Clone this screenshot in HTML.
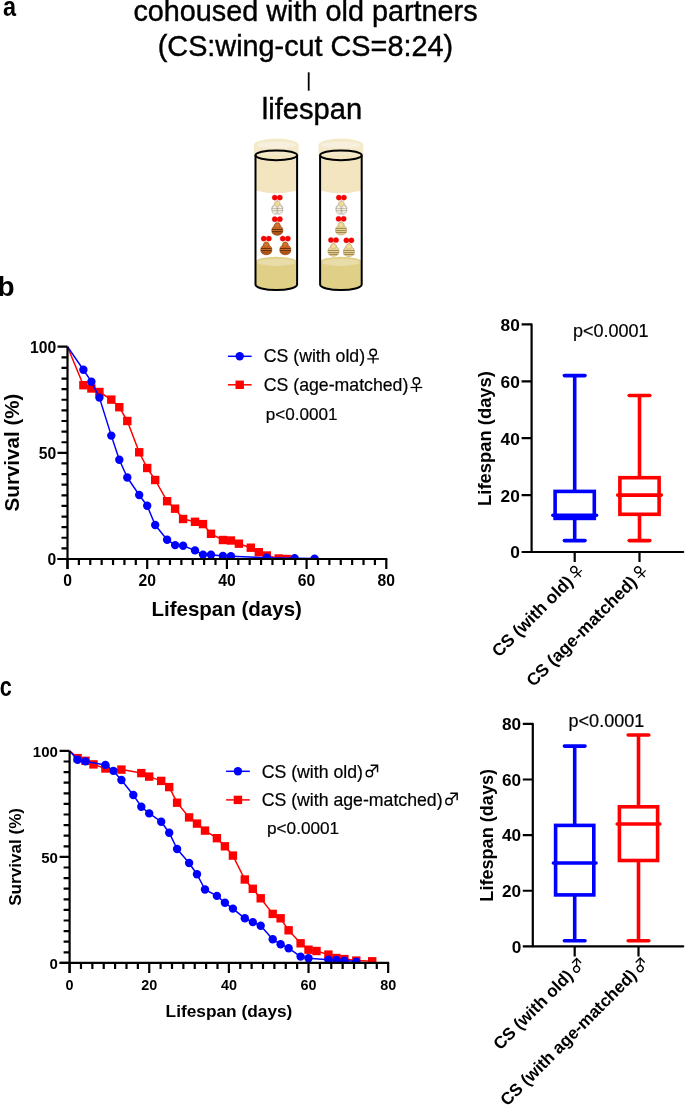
<!DOCTYPE html>
<html><head><meta charset="utf-8"><title>figure</title>
<style>
html,body{margin:0;padding:0;background:#fff;}
body{width:685px;height:1105px;overflow:hidden;}
svg{display:block;will-change:transform;}
svg text{font-family:"Liberation Sans", sans-serif;fill:#000;}
svg text.r{stroke:#000;stroke-width:0.2px;}
svg text.t{stroke:#000;stroke-width:0.4px;}
</style></head>
<body>
<svg width="685" height="1105" viewBox="0 0 685 1105">
<rect width="685" height="1105" fill="#fff"/>
<text transform="translate(3.0,16.2) scale(0.87,1)" font-size="27" font-weight="bold">a</text><text x="305.5" y="21" font-size="28.8" text-anchor="middle" class="t">cohoused with old partners</text><text x="305.4" y="55.7" font-size="28.8" text-anchor="middle" class="t">(CS:wing-cut CS=8:24)</text><rect x="307.8" y="72.3" width="1.8" height="18.4" fill="#000"/><text x="312.0" y="119.3" font-size="29.1" text-anchor="middle" class="t">lifespan</text><path d="M253.9 145 A22.4 6.4 0 0 1 298.7 145 L298.7 156 L253.9 156 Z" fill="#F4E9C8"/><ellipse cx="276.3" cy="144.9" rx="19.9" ry="3.2" fill="#F7F0DE"/><path d="M255.5 155 L297.1 155 L297.1 190.5 Q276.3 196 255.5 190.5 Z" fill="#F3E5BF"/><path d="M255.5 262 A20.80000000000001 5.3 0 0 1 297.1 262 L297.1 284.5 A20.80000000000001 5.6 0 0 1 255.5 284.5 Z" fill="#E0CF87"/><ellipse cx="276.3" cy="262.3" rx="19" ry="3.6" fill="#E8DDA9"/><path d="M255.5 155.3 L255.5 284.5 A20.80000000000001 5.6 0 0 0 297.1 284.5 L297.1 155.3" fill="none" stroke="#000" stroke-width="2"/><ellipse cx="276.3" cy="155.3" rx="20.80000000000001" ry="4.9" fill="none" stroke="#000" stroke-width="2"/><path d="M277.3 201.0 C279.3 201.0 280.2 202.79999999999998 280.3 204.5 C282.2 205.29999999999998 282.90000000000003 207.2 282.90000000000003 209.0 C282.90000000000003 211.9 280.5 213.79999999999998 277.3 213.79999999999998 C274.1 213.79999999999998 271.7 211.9 271.7 209.0 C271.7 207.2 272.40000000000003 205.29999999999998 274.3 204.5 C274.40000000000003 202.79999999999998 275.3 201.0 277.3 201.0 Z" fill="#ECE4CC" stroke="#9A9A9A" stroke-width="0.5"/><path d="M272.0 210.2 C272.3 212.4 274.3 213.49999999999997 277.3 213.49999999999997 C280.3 213.49999999999997 282.3 212.4 282.6 210.2 Z" fill="#E2D8BA"/><line x1="272.0" y1="208.5" x2="282.6" y2="208.5" stroke="#A89C78" stroke-width="0.9"/><line x1="272.0" y1="210.5" x2="282.6" y2="210.5" stroke="#A89C78" stroke-width="0.9"/><path d="M276.5 204.6 C270.8 205.1 270.1 214.1 276.1 214.79999999999998 L277.0 212.6 Z M278.1 204.6 C283.8 205.1 284.5 214.1 278.5 214.79999999999998 L277.6 212.6 Z" fill="#FFFFFF" fill-opacity="0.35" stroke="#9A9A9A" stroke-width="0.45"/><ellipse cx="277.3" cy="203.79999999999998" rx="2.7" ry="2.6" fill="#F6DA8A" stroke="#9A9A9A" stroke-width="0.3"/><path d="M276.5 201.0 L277.3 199.2 L278.1 201.0 Z" fill="#D8C070"/><circle cx="274.75" cy="197.6" r="2.6" fill="#FF0000" stroke="#D00000" stroke-width="0.3"/><circle cx="279.85" cy="197.6" r="2.6" fill="#FF0000" stroke="#D00000" stroke-width="0.3"/><path d="M277.3 222.6 C279.3 222.6 280.2 224.39999999999998 280.3 226.1 C282.2 226.89999999999998 282.90000000000003 228.79999999999998 282.90000000000003 230.6 C282.90000000000003 233.5 280.5 235.39999999999998 277.3 235.39999999999998 C274.1 235.39999999999998 271.7 233.5 271.7 230.6 C271.7 228.79999999999998 272.40000000000003 226.89999999999998 274.3 226.1 C274.40000000000003 224.39999999999998 275.3 222.6 277.3 222.6 Z" fill="#CC6820" stroke="#7A3A10" stroke-width="0.5"/><path d="M272.0 231.79999999999998 C272.3 234.0 274.3 235.09999999999997 277.3 235.09999999999997 C280.3 235.09999999999997 282.3 234.0 282.6 231.79999999999998 Z" fill="#A9531A"/><line x1="272.0" y1="229.5" x2="282.6" y2="229.5" stroke="#5E2C0A" stroke-width="0.9"/><line x1="272.0" y1="231.5" x2="282.6" y2="231.5" stroke="#5E2C0A" stroke-width="0.9"/><ellipse cx="277.3" cy="225.39999999999998" rx="2.7" ry="2.6" fill="#D2722A" stroke="#7A3A10" stroke-width="0.3"/><path d="M276.5 222.6 L277.3 220.79999999999998 L278.1 222.6 Z" fill="#D8C070"/><circle cx="274.75" cy="219.2" r="2.6" fill="#FF0000" stroke="#D00000" stroke-width="0.3"/><circle cx="279.85" cy="219.2" r="2.6" fill="#FF0000" stroke="#D00000" stroke-width="0.3"/><path d="M266.3 242.0 C268.3 242.0 269.2 243.79999999999998 269.3 245.5 C271.2 246.29999999999998 271.90000000000003 248.2 271.90000000000003 250.0 C271.90000000000003 252.9 269.5 254.79999999999998 266.3 254.79999999999998 C263.1 254.79999999999998 260.7 252.9 260.7 250.0 C260.7 248.2 261.40000000000003 246.29999999999998 263.3 245.5 C263.40000000000003 243.79999999999998 264.3 242.0 266.3 242.0 Z" fill="#CC6820" stroke="#7A3A10" stroke-width="0.5"/><path d="M261.0 251.2 C261.3 253.4 263.3 254.49999999999997 266.3 254.49999999999997 C269.3 254.49999999999997 271.3 253.4 271.6 251.2 Z" fill="#A9531A"/><line x1="261.0" y1="248.5" x2="271.6" y2="248.5" stroke="#5E2C0A" stroke-width="0.9"/><line x1="261.0" y1="250.5" x2="271.6" y2="250.5" stroke="#5E2C0A" stroke-width="0.9"/><ellipse cx="266.3" cy="244.79999999999998" rx="2.7" ry="2.6" fill="#D2722A" stroke="#7A3A10" stroke-width="0.3"/><path d="M265.5 242.0 L266.3 240.2 L267.1 242.0 Z" fill="#D8C070"/><circle cx="263.75" cy="238.6" r="2.6" fill="#FF0000" stroke="#D00000" stroke-width="0.3"/><circle cx="268.85" cy="238.6" r="2.6" fill="#FF0000" stroke="#D00000" stroke-width="0.3"/><path d="M285.3 242.0 C287.3 242.0 288.2 243.79999999999998 288.3 245.5 C290.2 246.29999999999998 290.90000000000003 248.2 290.90000000000003 250.0 C290.90000000000003 252.9 288.5 254.79999999999998 285.3 254.79999999999998 C282.1 254.79999999999998 279.7 252.9 279.7 250.0 C279.7 248.2 280.40000000000003 246.29999999999998 282.3 245.5 C282.40000000000003 243.79999999999998 283.3 242.0 285.3 242.0 Z" fill="#CC6820" stroke="#7A3A10" stroke-width="0.5"/><path d="M280.0 251.2 C280.3 253.4 282.3 254.49999999999997 285.3 254.49999999999997 C288.3 254.49999999999997 290.3 253.4 290.6 251.2 Z" fill="#A9531A"/><line x1="280.0" y1="248.5" x2="290.6" y2="248.5" stroke="#5E2C0A" stroke-width="0.9"/><line x1="280.0" y1="250.5" x2="290.6" y2="250.5" stroke="#5E2C0A" stroke-width="0.9"/><ellipse cx="285.3" cy="244.79999999999998" rx="2.7" ry="2.6" fill="#D2722A" stroke="#7A3A10" stroke-width="0.3"/><path d="M284.5 242.0 L285.3 240.2 L286.1 242.0 Z" fill="#D8C070"/><circle cx="282.75" cy="238.6" r="2.6" fill="#FF0000" stroke="#D00000" stroke-width="0.3"/><circle cx="287.85" cy="238.6" r="2.6" fill="#FF0000" stroke="#D00000" stroke-width="0.3"/><path d="M318.5 145 A22.4 6.4 0 0 1 363.29999999999995 145 L363.29999999999995 156 L318.5 156 Z" fill="#F4E9C8"/><ellipse cx="340.9" cy="144.9" rx="19.9" ry="3.2" fill="#F7F0DE"/><path d="M320.09999999999997 155 L361.7 155 L361.7 190.5 Q340.9 196 320.09999999999997 190.5 Z" fill="#F3E5BF"/><path d="M320.09999999999997 262 A20.80000000000001 5.3 0 0 1 361.7 262 L361.7 284.5 A20.80000000000001 5.6 0 0 1 320.09999999999997 284.5 Z" fill="#E0CF87"/><ellipse cx="340.9" cy="262.3" rx="19" ry="3.6" fill="#E8DDA9"/><path d="M320.09999999999997 155.3 L320.09999999999997 284.5 A20.80000000000001 5.6 0 0 0 361.7 284.5 L361.7 155.3" fill="none" stroke="#000" stroke-width="2"/><ellipse cx="340.9" cy="155.3" rx="20.80000000000001" ry="4.9" fill="none" stroke="#000" stroke-width="2"/><path d="M341.4 201.0 C343.4 201.0 344.29999999999995 202.79999999999998 344.4 204.5 C346.29999999999995 205.29999999999998 347.0 207.2 347.0 209.0 C347.0 211.9 344.59999999999997 213.79999999999998 341.4 213.79999999999998 C338.2 213.79999999999998 335.79999999999995 211.9 335.79999999999995 209.0 C335.79999999999995 207.2 336.5 205.29999999999998 338.4 204.5 C338.5 202.79999999999998 339.4 201.0 341.4 201.0 Z" fill="#ECE4CC" stroke="#9A9A9A" stroke-width="0.5"/><path d="M336.09999999999997 210.2 C336.4 212.4 338.4 213.49999999999997 341.4 213.49999999999997 C344.4 213.49999999999997 346.4 212.4 346.7 210.2 Z" fill="#E2D8BA"/><line x1="336.09999999999997" y1="208.5" x2="346.7" y2="208.5" stroke="#A89C78" stroke-width="0.9"/><line x1="336.09999999999997" y1="210.5" x2="346.7" y2="210.5" stroke="#A89C78" stroke-width="0.9"/><path d="M340.59999999999997 204.6 C334.9 205.1 334.2 214.1 340.2 214.79999999999998 L341.09999999999997 212.6 Z M342.2 204.6 C347.9 205.1 348.59999999999997 214.1 342.59999999999997 214.79999999999998 L341.7 212.6 Z" fill="#FFFFFF" fill-opacity="0.35" stroke="#9A9A9A" stroke-width="0.45"/><ellipse cx="341.4" cy="203.79999999999998" rx="2.7" ry="2.6" fill="#F6DA8A" stroke="#9A9A9A" stroke-width="0.3"/><path d="M340.59999999999997 201.0 L341.4 199.2 L342.2 201.0 Z" fill="#D8C070"/><circle cx="338.84999999999997" cy="197.6" r="2.6" fill="#FF0000" stroke="#D00000" stroke-width="0.3"/><circle cx="343.95" cy="197.6" r="2.6" fill="#FF0000" stroke="#D00000" stroke-width="0.3"/><path d="M341.09999999999997 222.20000000000002 C343.09999999999997 222.20000000000002 343.99999999999994 224.0 344.09999999999997 225.70000000000002 C345.99999999999994 226.5 346.7 228.4 346.7 230.20000000000002 C346.7 233.10000000000002 344.29999999999995 235.0 341.09999999999997 235.0 C337.9 235.0 335.49999999999994 233.10000000000002 335.49999999999994 230.20000000000002 C335.49999999999994 228.4 336.2 226.5 338.09999999999997 225.70000000000002 C338.2 224.0 339.09999999999997 222.20000000000002 341.09999999999997 222.20000000000002 Z" fill="#E8D597" stroke="#A08C58" stroke-width="0.5"/><path d="M335.79999999999995 231.4 C336.09999999999997 233.60000000000002 338.09999999999997 234.7 341.09999999999997 234.7 C344.09999999999997 234.7 346.09999999999997 233.60000000000002 346.4 231.4 Z" fill="#DCC684"/><line x1="335.79999999999995" y1="228.5" x2="346.4" y2="228.5" stroke="#9C8650" stroke-width="0.9"/><line x1="335.79999999999995" y1="230.5" x2="346.4" y2="230.5" stroke="#9C8650" stroke-width="0.9"/><line x1="335.79999999999995" y1="232.5" x2="346.4" y2="232.5" stroke="#9C8650" stroke-width="0.9"/><ellipse cx="341.09999999999997" cy="225.0" rx="2.7" ry="2.6" fill="#F2DC98" stroke="#A08C58" stroke-width="0.3"/><path d="M340.29999999999995 222.20000000000002 L341.09999999999997 220.4 L341.9 222.20000000000002 Z" fill="#D8C070"/><circle cx="338.54999999999995" cy="218.8" r="2.6" fill="#FF0000" stroke="#D00000" stroke-width="0.3"/><circle cx="343.65" cy="218.8" r="2.6" fill="#FF0000" stroke="#D00000" stroke-width="0.3"/><path d="M333.5 243.4 C335.5 243.4 336.4 245.2 336.5 246.9 C338.4 247.7 339.1 249.6 339.1 251.4 C339.1 254.3 336.7 256.2 333.5 256.2 C330.3 256.2 327.9 254.3 327.9 251.4 C327.9 249.6 328.6 247.7 330.5 246.9 C330.6 245.2 331.5 243.4 333.5 243.4 Z" fill="#E8D597" stroke="#A08C58" stroke-width="0.5"/><path d="M328.2 252.6 C328.5 254.8 330.5 255.89999999999998 333.5 255.89999999999998 C336.5 255.89999999999998 338.5 254.8 338.8 252.6 Z" fill="#DCC684"/><line x1="328.2" y1="250.5" x2="338.8" y2="250.5" stroke="#9C8650" stroke-width="0.9"/><line x1="328.2" y1="252.5" x2="338.8" y2="252.5" stroke="#9C8650" stroke-width="0.9"/><line x1="329.2" y1="254.5" x2="337.8" y2="254.5" stroke="#9C8650" stroke-width="0.9"/><ellipse cx="333.5" cy="246.2" rx="2.7" ry="2.6" fill="#F2DC98" stroke="#A08C58" stroke-width="0.3"/><path d="M332.7 243.4 L333.5 241.6 L334.3 243.4 Z" fill="#D8C070"/><circle cx="330.95" cy="240.0" r="2.6" fill="#FF0000" stroke="#D00000" stroke-width="0.3"/><circle cx="336.05" cy="240.0" r="2.6" fill="#FF0000" stroke="#D00000" stroke-width="0.3"/><path d="M348.9 243.70000000000002 C350.9 243.70000000000002 351.79999999999995 245.5 351.9 247.20000000000002 C353.79999999999995 248.0 354.5 249.9 354.5 251.70000000000002 C354.5 254.60000000000002 352.09999999999997 256.5 348.9 256.5 C345.7 256.5 343.29999999999995 254.60000000000002 343.29999999999995 251.70000000000002 C343.29999999999995 249.9 344.0 248.0 345.9 247.20000000000002 C346.0 245.5 346.9 243.70000000000002 348.9 243.70000000000002 Z" fill="#E8D597" stroke="#A08C58" stroke-width="0.5"/><path d="M343.59999999999997 252.9 C343.9 255.10000000000002 345.9 256.2 348.9 256.2 C351.9 256.2 353.9 255.10000000000002 354.2 252.9 Z" fill="#DCC684"/><line x1="343.59999999999997" y1="250.5" x2="354.2" y2="250.5" stroke="#9C8650" stroke-width="0.9"/><line x1="343.59999999999997" y1="252.5" x2="354.2" y2="252.5" stroke="#9C8650" stroke-width="0.9"/><line x1="343.59999999999997" y1="254.5" x2="354.2" y2="254.5" stroke="#9C8650" stroke-width="0.9"/><ellipse cx="348.9" cy="246.5" rx="2.7" ry="2.6" fill="#F2DC98" stroke="#A08C58" stroke-width="0.3"/><path d="M348.09999999999997 243.70000000000002 L348.9 241.9 L349.7 243.70000000000002 Z" fill="#D8C070"/><circle cx="346.34999999999997" cy="240.3" r="2.6" fill="#FF0000" stroke="#D00000" stroke-width="0.3"/><circle cx="351.45" cy="240.3" r="2.6" fill="#FF0000" stroke="#D00000" stroke-width="0.3"/><text x="-2.5" y="296.2" font-size="28" font-weight="bold" text-anchor="start" >b</text><text transform="translate(-0.2,696.0) scale(0.8,1)" font-size="27" font-weight="bold">c</text><clipPath id="cb"><rect x="67.5" y="336.7" width="400" height="222.3"/></clipPath><g clip-path="url(#cb)"><polyline points="67.5,346.7 83.4,385.2 91.4,388.5 99.4,392.0 111.3,399.6 119.3,407.2 127.3,421.0 139.2,452.3 147.2,468.0 155.2,480.0 167.1,501.2 175.1,508.7 183.1,519.0 195.0,521.8 203.0,524.1 211.0,533.8 222.9,540.0 230.9,540.5 238.9,543.7 250.8,547.7 258.8,552.2 266.8,555.5 278.7,558.5 286.7,559.0" fill="none" stroke="#FF0000" stroke-width="1.5" stroke-linejoin="round"/><rect x="79.2" y="381.0" width="8.4" height="8.4" fill="#FF0000"/><rect x="87.2" y="384.3" width="8.4" height="8.4" fill="#FF0000"/><rect x="95.2" y="387.8" width="8.4" height="8.4" fill="#FF0000"/><rect x="107.1" y="395.4" width="8.4" height="8.4" fill="#FF0000"/><rect x="115.1" y="403.0" width="8.4" height="8.4" fill="#FF0000"/><rect x="123.1" y="416.8" width="8.4" height="8.4" fill="#FF0000"/><rect x="135.0" y="448.1" width="8.4" height="8.4" fill="#FF0000"/><rect x="143.0" y="463.8" width="8.4" height="8.4" fill="#FF0000"/><rect x="151.0" y="475.8" width="8.4" height="8.4" fill="#FF0000"/><rect x="162.9" y="497.0" width="8.4" height="8.4" fill="#FF0000"/><rect x="170.9" y="504.5" width="8.4" height="8.4" fill="#FF0000"/><rect x="178.9" y="514.8" width="8.4" height="8.4" fill="#FF0000"/><rect x="190.8" y="517.6" width="8.4" height="8.4" fill="#FF0000"/><rect x="198.8" y="519.9" width="8.4" height="8.4" fill="#FF0000"/><rect x="206.8" y="529.6" width="8.4" height="8.4" fill="#FF0000"/><rect x="218.7" y="535.8" width="8.4" height="8.4" fill="#FF0000"/><rect x="226.7" y="536.3" width="8.4" height="8.4" fill="#FF0000"/><rect x="234.7" y="539.5" width="8.4" height="8.4" fill="#FF0000"/><rect x="246.6" y="543.5" width="8.4" height="8.4" fill="#FF0000"/><rect x="254.6" y="548.0" width="8.4" height="8.4" fill="#FF0000"/><rect x="262.6" y="551.3" width="8.4" height="8.4" fill="#FF0000"/><rect x="274.5" y="554.3" width="8.4" height="8.4" fill="#FF0000"/><rect x="282.5" y="554.8" width="8.4" height="8.4" fill="#FF0000"/><polyline points="67.5,346.7 83.4,369.8 91.4,381.7 99.4,397.6 111.3,435.6 119.3,459.8 127.3,477.5 139.2,495.0 147.2,505.8 155.2,525.0 167.1,539.7 175.1,545.1 183.1,545.7 195.0,550.4 203.0,554.6 211.0,554.8 222.9,556.0 230.9,556.3 266.8,557.8 294.6,558.2 314.6,558.6" fill="none" stroke="#0000FF" stroke-width="1.5" stroke-linejoin="round"/><circle cx="83.4" cy="369.8" r="4.2" fill="#0000FF"/><circle cx="91.4" cy="381.7" r="4.2" fill="#0000FF"/><circle cx="99.4" cy="397.6" r="4.2" fill="#0000FF"/><circle cx="111.3" cy="435.6" r="4.2" fill="#0000FF"/><circle cx="119.3" cy="459.8" r="4.2" fill="#0000FF"/><circle cx="127.3" cy="477.5" r="4.2" fill="#0000FF"/><circle cx="139.2" cy="495.0" r="4.2" fill="#0000FF"/><circle cx="147.2" cy="505.8" r="4.2" fill="#0000FF"/><circle cx="155.2" cy="525.0" r="4.2" fill="#0000FF"/><circle cx="167.1" cy="539.7" r="4.2" fill="#0000FF"/><circle cx="175.1" cy="545.1" r="4.2" fill="#0000FF"/><circle cx="183.1" cy="545.7" r="4.2" fill="#0000FF"/><circle cx="195.0" cy="550.4" r="4.2" fill="#0000FF"/><circle cx="203.0" cy="554.6" r="4.2" fill="#0000FF"/><circle cx="211.0" cy="554.8" r="4.2" fill="#0000FF"/><circle cx="222.9" cy="556.0" r="4.2" fill="#0000FF"/><circle cx="230.9" cy="556.3" r="4.2" fill="#0000FF"/><circle cx="266.8" cy="557.8" r="4.2" fill="#0000FF"/><circle cx="294.6" cy="558.2" r="4.2" fill="#0000FF"/><circle cx="314.6" cy="558.6" r="4.2" fill="#0000FF"/></g><path d="M67.5 346.7 L67.5 569.0 M57.5 559.0 L387.3 559.0" stroke="#000" stroke-width="2.2" fill="none"/><path d="M57.5 559.00 L67.5 559.00 M61.5 548.38 L67.5 548.38 M61.5 537.77 L67.5 537.77 M61.5 527.15 L67.5 527.15 M61.5 516.54 L67.5 516.54 M61.5 505.93 L67.5 505.93 M61.5 495.31 L67.5 495.31 M61.5 484.69 L67.5 484.69 M61.5 474.08 L67.5 474.08 M61.5 463.46 L67.5 463.46 M57.5 452.85 L67.5 452.85 M61.5 442.24 L67.5 442.24 M61.5 431.62 L67.5 431.62 M61.5 421.00 L67.5 421.00 M61.5 410.39 L67.5 410.39 M61.5 399.77 L67.5 399.77 M61.5 389.16 L67.5 389.16 M61.5 378.54 L67.5 378.54 M61.5 367.93 L67.5 367.93 M61.5 357.31 L67.5 357.31 M57.5 346.70 L67.5 346.70 M67.50 559.0 L67.50 569.0 M78.89 559.0 L78.89 565.0 M90.27 559.0 L90.27 565.0 M101.66 559.0 L101.66 565.0 M113.04 559.0 L113.04 565.0 M124.43 559.0 L124.43 565.0 M135.81 559.0 L135.81 565.0 M147.20 559.0 L147.20 569.0 M158.59 559.0 L158.59 565.0 M169.97 559.0 L169.97 565.0 M181.36 559.0 L181.36 565.0 M192.74 559.0 L192.74 565.0 M204.13 559.0 L204.13 565.0 M215.51 559.0 L215.51 565.0 M226.90 559.0 L226.90 569.0 M238.29 559.0 L238.29 565.0 M249.67 559.0 L249.67 565.0 M261.06 559.0 L261.06 565.0 M272.44 559.0 L272.44 565.0 M283.83 559.0 L283.83 565.0 M295.21 559.0 L295.21 565.0 M306.60 559.0 L306.60 569.0 M317.99 559.0 L317.99 565.0 M329.37 559.0 L329.37 565.0 M340.76 559.0 L340.76 565.0 M352.14 559.0 L352.14 565.0 M363.53 559.0 L363.53 565.0 M374.91 559.0 L374.91 565.0 M386.30 559.0 L386.30 569.0" stroke="#000" stroke-width="2.2" fill="none"/><text x="56.2" y="565.2" font-size="15.7" font-weight="bold" text-anchor="end">0</text><text x="56.2" y="459.1" font-size="15.7" font-weight="bold" text-anchor="end">50</text><text x="56.2" y="352.9" font-size="15.7" font-weight="bold" text-anchor="end">100</text><text x="67.5" y="586.2" font-size="15.7" font-weight="bold" text-anchor="middle">0</text><text x="147.2" y="586.2" font-size="15.7" font-weight="bold" text-anchor="middle">20</text><text x="226.9" y="586.2" font-size="15.7" font-weight="bold" text-anchor="middle">40</text><text x="306.6" y="586.2" font-size="15.7" font-weight="bold" text-anchor="middle">60</text><text x="386.3" y="586.2" font-size="15.7" font-weight="bold" text-anchor="middle">80</text><text transform="translate(18.7,452.5) rotate(-90)" font-size="20.6" font-weight="bold" text-anchor="middle">Survival (%)</text><text x="226.7" y="616.0" font-size="20.5" font-weight="bold" text-anchor="middle">Lifespan (days)</text><clipPath id="cc"><rect x="69.6" y="740.9" width="400" height="222.0"/></clipPath><g clip-path="url(#cc)"><polyline points="69.6,750.9 77.6,758.1 85.5,760.8 93.5,764.4 105.4,768.5 121.4,769.6 141.3,773.1 149.2,776.6 161.2,780.9 169.2,787.1 177.1,802.7 189.1,817.4 197.0,823.6 205.0,830.6 216.9,838.2 224.9,846.3 232.9,855.6 244.8,879.5 252.8,888.8 260.7,898.3 272.7,913.9 280.6,918.3 288.6,930.3 300.6,943.3 308.5,949.7 316.5,951.0 328.4,954.6 336.4,958.0 344.4,959.1 356.3,960.6 372.2,961.3" fill="none" stroke="#FF0000" stroke-width="1.5" stroke-linejoin="round"/><rect x="73.4" y="753.9" width="8.4" height="8.4" fill="#FF0000"/><rect x="81.3" y="756.6" width="8.4" height="8.4" fill="#FF0000"/><rect x="89.3" y="760.2" width="8.4" height="8.4" fill="#FF0000"/><rect x="101.2" y="764.3" width="8.4" height="8.4" fill="#FF0000"/><rect x="117.2" y="765.4" width="8.4" height="8.4" fill="#FF0000"/><rect x="137.1" y="768.9" width="8.4" height="8.4" fill="#FF0000"/><rect x="145.0" y="772.4" width="8.4" height="8.4" fill="#FF0000"/><rect x="157.0" y="776.7" width="8.4" height="8.4" fill="#FF0000"/><rect x="165.0" y="782.9" width="8.4" height="8.4" fill="#FF0000"/><rect x="172.9" y="798.5" width="8.4" height="8.4" fill="#FF0000"/><rect x="184.9" y="813.2" width="8.4" height="8.4" fill="#FF0000"/><rect x="192.8" y="819.4" width="8.4" height="8.4" fill="#FF0000"/><rect x="200.8" y="826.4" width="8.4" height="8.4" fill="#FF0000"/><rect x="212.7" y="834.0" width="8.4" height="8.4" fill="#FF0000"/><rect x="220.7" y="842.1" width="8.4" height="8.4" fill="#FF0000"/><rect x="228.7" y="851.4" width="8.4" height="8.4" fill="#FF0000"/><rect x="240.6" y="875.3" width="8.4" height="8.4" fill="#FF0000"/><rect x="248.6" y="884.6" width="8.4" height="8.4" fill="#FF0000"/><rect x="256.5" y="894.1" width="8.4" height="8.4" fill="#FF0000"/><rect x="268.5" y="909.7" width="8.4" height="8.4" fill="#FF0000"/><rect x="276.4" y="914.1" width="8.4" height="8.4" fill="#FF0000"/><rect x="284.4" y="926.1" width="8.4" height="8.4" fill="#FF0000"/><rect x="296.4" y="939.1" width="8.4" height="8.4" fill="#FF0000"/><rect x="304.3" y="945.5" width="8.4" height="8.4" fill="#FF0000"/><rect x="312.3" y="946.8" width="8.4" height="8.4" fill="#FF0000"/><rect x="324.2" y="950.4" width="8.4" height="8.4" fill="#FF0000"/><rect x="332.2" y="953.8" width="8.4" height="8.4" fill="#FF0000"/><rect x="340.2" y="954.9" width="8.4" height="8.4" fill="#FF0000"/><rect x="352.1" y="956.4" width="8.4" height="8.4" fill="#FF0000"/><rect x="368.0" y="957.1" width="8.4" height="8.4" fill="#FF0000"/><polyline points="69.6,750.9 77.6,759.8 85.5,761.4 105.4,764.9 113.4,770.9 121.4,780.0 133.3,795.0 141.3,806.7 149.2,813.4 161.2,821.7 169.2,832.7 177.1,849.0 189.1,863.0 197.0,874.3 205.0,889.5 216.9,895.9 224.9,902.8 232.9,908.6 244.8,918.3 252.8,922.1 260.7,925.8 272.7,939.3 280.6,944.2 288.6,948.2 300.6,956.6 308.5,958.2 328.4,959.7 336.4,959.9 344.4,960.6 356.3,961.6" fill="none" stroke="#0000FF" stroke-width="1.5" stroke-linejoin="round"/><circle cx="77.6" cy="759.8" r="4.2" fill="#0000FF"/><circle cx="85.5" cy="761.4" r="4.2" fill="#0000FF"/><circle cx="105.4" cy="764.9" r="4.2" fill="#0000FF"/><circle cx="113.4" cy="770.9" r="4.2" fill="#0000FF"/><circle cx="121.4" cy="780.0" r="4.2" fill="#0000FF"/><circle cx="133.3" cy="795.0" r="4.2" fill="#0000FF"/><circle cx="141.3" cy="806.7" r="4.2" fill="#0000FF"/><circle cx="149.2" cy="813.4" r="4.2" fill="#0000FF"/><circle cx="161.2" cy="821.7" r="4.2" fill="#0000FF"/><circle cx="169.2" cy="832.7" r="4.2" fill="#0000FF"/><circle cx="177.1" cy="849.0" r="4.2" fill="#0000FF"/><circle cx="189.1" cy="863.0" r="4.2" fill="#0000FF"/><circle cx="197.0" cy="874.3" r="4.2" fill="#0000FF"/><circle cx="205.0" cy="889.5" r="4.2" fill="#0000FF"/><circle cx="216.9" cy="895.9" r="4.2" fill="#0000FF"/><circle cx="224.9" cy="902.8" r="4.2" fill="#0000FF"/><circle cx="232.9" cy="908.6" r="4.2" fill="#0000FF"/><circle cx="244.8" cy="918.3" r="4.2" fill="#0000FF"/><circle cx="252.8" cy="922.1" r="4.2" fill="#0000FF"/><circle cx="260.7" cy="925.8" r="4.2" fill="#0000FF"/><circle cx="272.7" cy="939.3" r="4.2" fill="#0000FF"/><circle cx="280.6" cy="944.2" r="4.2" fill="#0000FF"/><circle cx="288.6" cy="948.2" r="4.2" fill="#0000FF"/><circle cx="300.6" cy="956.6" r="4.2" fill="#0000FF"/><circle cx="308.5" cy="958.2" r="4.2" fill="#0000FF"/><circle cx="328.4" cy="959.7" r="4.2" fill="#0000FF"/><circle cx="336.4" cy="959.9" r="4.2" fill="#0000FF"/><circle cx="344.4" cy="960.6" r="4.2" fill="#0000FF"/><circle cx="356.3" cy="961.6" r="4.2" fill="#0000FF"/></g><path d="M69.6 750.9 L69.6 972.9 M59.599999999999994 962.9 L389.15999999999997 962.9" stroke="#000" stroke-width="2.2" fill="none"/><path d="M59.599999999999994 962.90 L69.6 962.90 M63.599999999999994 952.30 L69.6 952.30 M63.599999999999994 941.70 L69.6 941.70 M63.599999999999994 931.10 L69.6 931.10 M63.599999999999994 920.50 L69.6 920.50 M63.599999999999994 909.90 L69.6 909.90 M63.599999999999994 899.30 L69.6 899.30 M63.599999999999994 888.70 L69.6 888.70 M63.599999999999994 878.10 L69.6 878.10 M63.599999999999994 867.50 L69.6 867.50 M59.599999999999994 856.90 L69.6 856.90 M63.599999999999994 846.30 L69.6 846.30 M63.599999999999994 835.70 L69.6 835.70 M63.599999999999994 825.10 L69.6 825.10 M63.599999999999994 814.50 L69.6 814.50 M63.599999999999994 803.90 L69.6 803.90 M63.599999999999994 793.30 L69.6 793.30 M63.599999999999994 782.70 L69.6 782.70 M63.599999999999994 772.10 L69.6 772.10 M63.599999999999994 761.50 L69.6 761.50 M59.599999999999994 750.90 L69.6 750.90 M69.60 962.9 L69.60 972.9 M80.98 962.9 L80.98 968.9 M92.35 962.9 L92.35 968.9 M103.73 962.9 L103.73 968.9 M115.11 962.9 L115.11 968.9 M126.49 962.9 L126.49 968.9 M137.86 962.9 L137.86 968.9 M149.24 962.9 L149.24 972.9 M160.62 962.9 L160.62 968.9 M171.99 962.9 L171.99 968.9 M183.37 962.9 L183.37 968.9 M194.75 962.9 L194.75 968.9 M206.13 962.9 L206.13 968.9 M217.50 962.9 L217.50 968.9 M228.88 962.9 L228.88 972.9 M240.26 962.9 L240.26 968.9 M251.63 962.9 L251.63 968.9 M263.01 962.9 L263.01 968.9 M274.39 962.9 L274.39 968.9 M285.77 962.9 L285.77 968.9 M297.14 962.9 L297.14 968.9 M308.52 962.9 L308.52 972.9 M319.90 962.9 L319.90 968.9 M331.27 962.9 L331.27 968.9 M342.65 962.9 L342.65 968.9 M354.03 962.9 L354.03 968.9 M365.41 962.9 L365.41 968.9 M376.78 962.9 L376.78 968.9 M388.16 962.9 L388.16 972.9" stroke="#000" stroke-width="2.2" fill="none"/><text x="57.9" y="969.0" font-size="15.0" font-weight="bold" text-anchor="end">0</text><text x="57.9" y="863.0" font-size="15.0" font-weight="bold" text-anchor="end">50</text><text x="57.9" y="757.0" font-size="15.0" font-weight="bold" text-anchor="end">100</text><text x="69.6" y="990.1" font-size="14.4" font-weight="bold" text-anchor="middle">0</text><text x="149.2" y="990.1" font-size="14.4" font-weight="bold" text-anchor="middle">20</text><text x="228.9" y="990.1" font-size="14.4" font-weight="bold" text-anchor="middle">40</text><text x="308.5" y="990.1" font-size="14.4" font-weight="bold" text-anchor="middle">60</text><text x="388.2" y="990.1" font-size="14.4" font-weight="bold" text-anchor="middle">80</text><text transform="translate(20.6,856.9) rotate(-90)" font-size="17.1" font-weight="bold" text-anchor="middle">Survival (%)</text><text x="229.0" y="1016.9" font-size="17.3" font-weight="bold" text-anchor="middle">Lifespan (days)</text><line x1="227.9" y1="356.3" x2="251.6" y2="356.3" stroke="#0000FF" stroke-width="1.5"/><circle cx="239.70000000000002" cy="356.3" r="4.2" fill="#0000FF"/><line x1="227.9" y1="384.8" x2="251.6" y2="384.8" stroke="#FF0000" stroke-width="1.5"/><rect x="235.50000000000003" y="380.6" width="8.4" height="8.4" fill="#FF0000"/><text class="r" x="263.8" y="362.40000000000003" font-size="17.7">CS (with old)</text><text class="r" x="263.8" y="391.0" font-size="17.7">CS (age-matched)</text><g transform="translate(373.15,352.50) scale(1.0)" fill="none" stroke="#000"><circle cx="0" cy="0" r="3.3" stroke-width="1.4"/><path d="M0 3.6 L0 10.9" stroke-width="1.4"/><path d="M-5.9 6.4 L5.8 6.4" stroke-width="1.26"/></g><g transform="translate(416.42,381.10) scale(1.0)" fill="none" stroke="#000"><circle cx="0" cy="0" r="3.3" stroke-width="1.4"/><path d="M0 3.6 L0 10.9" stroke-width="1.4"/><path d="M-5.9 6.4 L5.8 6.4" stroke-width="1.26"/></g><text class="r" x="265.8" y="419.5" font-size="17.1">p&lt;0.0001</text><line x1="226.1" y1="771.3" x2="249.79999999999998" y2="771.3" stroke="#0000FF" stroke-width="1.5"/><circle cx="237.9" cy="771.3" r="4.2" fill="#0000FF"/><line x1="226.1" y1="799.9" x2="249.79999999999998" y2="799.9" stroke="#FF0000" stroke-width="1.5"/><rect x="233.70000000000002" y="795.6999999999999" width="8.4" height="8.4" fill="#FF0000"/><text class="r" x="261.7" y="777.8" font-size="17.7">CS (with old)</text><text class="r" x="261.7" y="805.8" font-size="17.7">CS (with age-matched)</text><g transform="translate(369.35,773.50) scale(1.0)" fill="none" stroke="#000"><circle cx="0" cy="0" r="3.2" stroke-width="1.4"/><path d="M2.3 -2.3 L8.0 -8.0" stroke-width="1.4"/><path d="M1.3 -8.2 L8.2 -8.2 L8.2 -1.3" stroke-width="1.4" stroke-linejoin="miter"/></g><g transform="translate(448.97,801.50) scale(1.0)" fill="none" stroke="#000"><circle cx="0" cy="0" r="3.2" stroke-width="1.4"/><path d="M2.3 -2.3 L8.0 -8.0" stroke-width="1.4"/><path d="M1.3 -8.2 L8.2 -8.2 L8.2 -1.3" stroke-width="1.4" stroke-linejoin="miter"/></g><text class="r" x="267.0" y="833.7" font-size="17.2">p&lt;0.0001</text><path d="M531.6 324.4 L531.6 552.0 L683.2 552.0" stroke="#000" stroke-width="2.2" fill="none" stroke-linecap="round" stroke-linejoin="round"/><path d="M521.6 552.00 L531.6 552.00 M521.6 495.10 L531.6 495.10 M521.6 438.20 L531.6 438.20 M521.6 381.30 L531.6 381.30 M521.6 324.40 L531.6 324.40 M574.7 552.0 L574.7 562.0 M639.5 552.0 L639.5 562.0" stroke="#000" stroke-width="2.2" fill="none"/><text x="519.8" y="558.4" font-size="17.3" font-weight="bold" text-anchor="end">0</text><text x="519.8" y="501.5" font-size="17.3" font-weight="bold" text-anchor="end">20</text><text x="519.8" y="444.6" font-size="17.3" font-weight="bold" text-anchor="end">40</text><text x="519.8" y="387.7" font-size="17.3" font-weight="bold" text-anchor="end">60</text><text x="519.8" y="330.8" font-size="17.3" font-weight="bold" text-anchor="end">80</text><text transform="translate(490.5,438.5) rotate(-90)" font-size="18.4" font-weight="bold" text-anchor="middle">Lifespan (days)</text><text class="r" x="573.0" y="336.6" font-size="18">p&lt;0.0001</text><g stroke="#0000FF" fill="none" stroke-width="3.6"><line x1="574.7" y1="375.6" x2="574.7" y2="491.4"/><line x1="574.7" y1="518.4" x2="574.7" y2="540.6"/><line x1="564.4000000000001" y1="375.6" x2="585.0" y2="375.6" stroke-linecap="round"/><line x1="564.4000000000001" y1="540.6" x2="585.0" y2="540.6" stroke-linecap="round"/><rect x="555.1" y="491.4" width="39.2" height="27.0"/><line x1="552.9" y1="515.3" x2="596.5" y2="515.3" stroke-linecap="round"/></g><g stroke="#FF0000" fill="none" stroke-width="3.6"><line x1="639.5" y1="395.5" x2="639.5" y2="477.7"/><line x1="639.5" y1="514.3" x2="639.5" y2="540.6"/><line x1="629.2" y1="395.5" x2="649.8" y2="395.5" stroke-linecap="round"/><line x1="629.2" y1="540.6" x2="649.8" y2="540.6" stroke-linecap="round"/><rect x="619.9" y="477.7" width="39.2" height="36.6"/><line x1="617.7" y1="495.1" x2="661.3" y2="495.1" stroke-linecap="round"/></g><g transform="translate(573.8,569.7) rotate(-45)"><text x="-9.13" y="9.45" font-size="17.4" font-weight="bold" text-anchor="end">CS (with old)</text><g transform="translate(0.00,0.00) scale(0.92)" fill="none" stroke="#000"><circle cx="0" cy="0" r="3.3" stroke-width="1.4"/><path d="M0 3.6 L0 10.9" stroke-width="1.4"/><path d="M-5.9 6.4 L5.8 6.4" stroke-width="1.26"/></g></g><g transform="translate(637.7,569.9) rotate(-45)"><text x="-9.13" y="9.45" font-size="17.4" font-weight="bold" text-anchor="end">CS (age-matched)</text><g transform="translate(0.00,0.00) scale(0.92)" fill="none" stroke="#000"><circle cx="0" cy="0" r="3.3" stroke-width="1.4"/><path d="M0 3.6 L0 10.9" stroke-width="1.4"/><path d="M-5.9 6.4 L5.8 6.4" stroke-width="1.26"/></g></g><path d="M532.8 723.9 L532.8 946.4 L683.2 946.4" stroke="#000" stroke-width="2.2" fill="none" stroke-linecap="round" stroke-linejoin="round"/><path d="M522.8 946.40 L532.8 946.40 M522.8 890.77 L532.8 890.77 M522.8 835.15 L532.8 835.15 M522.8 779.52 L532.8 779.52 M522.8 723.90 L532.8 723.90 M574.7 946.4 L574.7 956.4 M638.5 946.4 L638.5 956.4" stroke="#000" stroke-width="2.2" fill="none"/><text x="521.2" y="952.5" font-size="17.2" font-weight="bold" text-anchor="end">0</text><text x="521.2" y="896.9" font-size="17.2" font-weight="bold" text-anchor="end">20</text><text x="521.2" y="841.3" font-size="17.2" font-weight="bold" text-anchor="end">40</text><text x="521.2" y="785.6" font-size="17.2" font-weight="bold" text-anchor="end">60</text><text x="521.2" y="730.0" font-size="17.2" font-weight="bold" text-anchor="end">80</text><text transform="translate(492.6,835.3) rotate(-90)" font-size="18.1" font-weight="bold" text-anchor="middle">Lifespan (days)</text><text class="r" x="568.6" y="727.2" font-size="18">p&lt;0.0001</text><g stroke="#0000FF" fill="none" stroke-width="3.6"><line x1="574.7" y1="746.1" x2="574.7" y2="825.4"/><line x1="574.7" y1="894.9" x2="574.7" y2="940.8"/><line x1="564.4000000000001" y1="746.1" x2="585.0" y2="746.1" stroke-linecap="round"/><line x1="564.4000000000001" y1="940.8" x2="585.0" y2="940.8" stroke-linecap="round"/><rect x="555.6" y="825.4" width="38.2" height="69.5"/><line x1="553.4" y1="863.0" x2="596.0" y2="863.0" stroke-linecap="round"/></g><g stroke="#FF0000" fill="none" stroke-width="3.6"><line x1="638.5" y1="735.0" x2="638.5" y2="806.8"/><line x1="638.5" y1="860.5" x2="638.5" y2="940.8"/><line x1="628.2" y1="735.0" x2="648.8" y2="735.0" stroke-linecap="round"/><line x1="628.2" y1="940.8" x2="648.8" y2="940.8" stroke-linecap="round"/><rect x="619.4" y="806.8" width="38.2" height="53.7"/><line x1="617.2" y1="824.0" x2="659.8" y2="824.0" stroke-linecap="round"/></g><g transform="translate(576.6,969.1) rotate(-45)"><text x="-7.3" y="3.67" font-size="17.1" font-weight="bold" text-anchor="end">CS (with old)</text><g transform="translate(0.00,0.00) scale(0.92)" fill="none" stroke="#000"><circle cx="0" cy="0" r="3.2" stroke-width="1.4"/><path d="M2.3 -2.3 L8.0 -8.0" stroke-width="1.4"/><path d="M1.3 -8.2 L8.2 -8.2 L8.2 -1.3" stroke-width="1.4" stroke-linejoin="miter"/></g></g><g transform="translate(640.2,968.6) rotate(-45)"><text x="-7.3" y="3.67" font-size="17.1" font-weight="bold" text-anchor="end">CS (with age-matched)</text><g transform="translate(0.00,0.00) scale(0.92)" fill="none" stroke="#000"><circle cx="0" cy="0" r="3.2" stroke-width="1.4"/><path d="M2.3 -2.3 L8.0 -8.0" stroke-width="1.4"/><path d="M1.3 -8.2 L8.2 -8.2 L8.2 -1.3" stroke-width="1.4" stroke-linejoin="miter"/></g></g>
</svg>
</body></html>
